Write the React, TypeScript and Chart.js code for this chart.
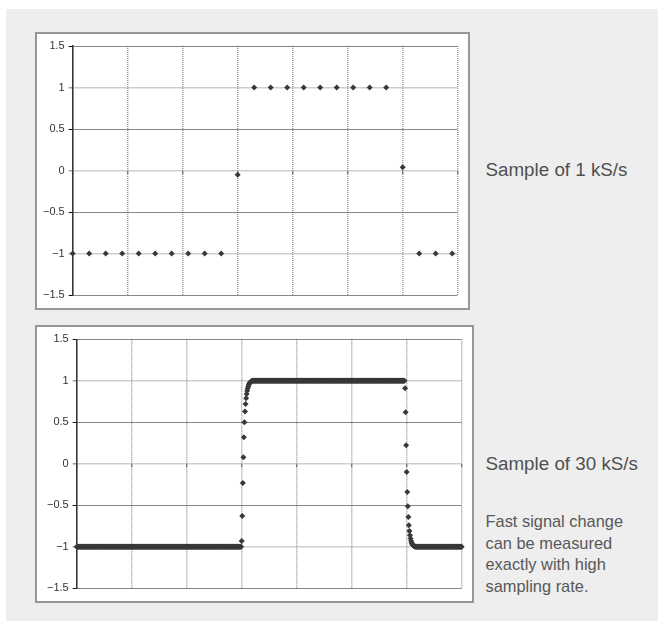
import React, { useEffect, useRef } from "react";
import { Chart, registerables } from "chart.js";

Chart.register(...registerables);

// ---- axis data ----
const yTickValues = [-1.5, -1, -0.5, 0, 0.5, 1, 1.5];
const gridTimesMs = [0, 10 / 3, 20 / 3, 10, 40 / 3, 50 / 3, 20, 70 / 3];
const timeMaxMs = 70 / 3;

// ---- 1 kS/s samples (one per ms) ----
const slowRateKs = 1;
const slowValues = [
  -1, -1, -1, -1, -1, -1, -1, -1, -1, -1, -0.05, 1, 1, 1, 1, 1, 1, 1, 1, 1, 0.04, -1, -1, -1,
];

// ---- 30 kS/s samples (30 per ms) ----
const fastRateKs = 30;
const fastLowLevel = -1;
const fastHighLevel = 1;
const fastLeadLowCount = 300;
const fastRiseEdge = [
  -0.93, -0.63, -0.23, 0.08, 0.32, 0.5, 0.63, 0.72, 0.79, 0.84, 0.88, 0.91, 0.935, 0.955, 0.97,
  0.98, 0.987, 0.992, 0.996,
];
const fastHighCount = 278;
const fastFallEdge = [
  0.91, 0.62, 0.225, -0.1, -0.34, -0.51, -0.64, -0.74, -0.81, -0.86, -0.9, -0.93, -0.95, -0.965,
  -0.977, -0.985, -0.99, -0.994, -0.997,
];
const fastTailLowCount = 85;

// ---- texts ----
const captionSlow = "Sample of 1 kS/s";
const captionFast = "Sample of 30 kS/s";
const noteLines = ["Fast signal change", "can be measured", "exactly with high", "sampling rate."];

function repeatLevel(level: number, count: number): number[] {
  const out: number[] = [];
  for (let i = 0; i < count; i++) out.push(level);
  return out;
}

const fastValues: number[] = [
  ...repeatLevel(fastLowLevel, fastLeadLowCount),
  ...fastRiseEdge,
  ...repeatLevel(fastHighLevel, fastHighCount),
  ...fastFallEdge,
  ...repeatLevel(fastLowLevel, fastTailLowCount),
];

type Pad = { axisWidth: number; right: number; top: number; bottom: number };

function fmtTick(v: number | string) {
  const n = Number(v);
  return n < 0 ? "\u2212" + String(-n) : String(n);
}

function makeConfig(values: number[], rateKs: number, pad: Pad): any {
  const data = values.map((v, i) => ({ x: i / rateKs, y: v }));
  const isInt = (c: any) => c.tick && Number.isInteger(c.tick.value);
  return {
    type: "scatter",
    data: {
      datasets: [
        {
          data,
          pointStyle: "rectRot",
          pointRadius: 3,
          pointBackgroundColor: "#383838",
          pointBorderColor: "#383838",
          pointBorderWidth: 0,
          showLine: false,
          clip: false,
        },
      ],
    },
    options: {
      animation: false,
      responsive: false,
      events: [],
      layout: { padding: { left: 0, right: pad.right, top: pad.top, bottom: pad.bottom } },
      plugins: { legend: { display: false }, tooltip: { enabled: false } },
      scales: {
        x: {
          type: "linear",
          min: 0,
          max: timeMaxMs,
          position: { y: 0 },
          afterBuildTicks: (s: any) => {
            s.ticks = gridTimesMs.map((v) => ({ value: v }));
          },
          ticks: { display: false },
          grid: {
            color: "#9e9e9e",
            lineWidth: 1.5,
            drawTicks: true,
            tickLength: 3,
            tickColor: "#555",
            tickWidth: 1,
          },
          border: { display: false, dash: [1, 1] },
        },
        y: {
          type: "linear",
          min: -1.5,
          max: 1.5,
          afterBuildTicks: (s: any) => {
            s.ticks = yTickValues.map((v) => ({ value: v }));
          },
          afterFit: (s: any) => {
            s.width = pad.axisWidth;
          },
          ticks: {
            callback: (v: any) => fmtTick(v),
            font: { family: "'Liberation Sans', Arial, sans-serif", size: 11 },
            color: "#333",
            padding: 4,
          },
          grid: {
            color: (c: any) => (isInt(c) ? "#9e9e9e" : "#111"),
            lineWidth: (c: any) => (isInt(c) ? 1.5 : 1),
            drawTicks: true,
            tickLength: 4,
          },
          border: { display: true, color: "#333", width: 1.5, dash: [1, 1] },
        },
      },
    },
  };
}

function SignalChart(props: {
  values: number[];
  rateKs: number;
  left: number;
  top: number;
  width: number;
  height: number;
  pad: Pad;
}) {
  const ref = useRef<HTMLCanvasElement | null>(null);
  useEffect(() => {
    if (!ref.current) return;
    const chart = new Chart(ref.current, makeConfig(props.values, props.rateKs, props.pad));
    return () => chart.destroy();
  }, []);
  const { left, top, width, height } = props;
  return (
    <>
      <div
        style={{
          position: "absolute",
          left,
          top,
          width,
          height,
          boxSizing: "border-box",
          border: "2px solid #979797",
          background: "#fff",
        }}
      />
      <canvas
        ref={ref}
        width={width}
        height={height}
        style={{ position: "absolute", left, top, width, height }}
      />
    </>
  );
}

const textFont = "'Liberation Sans', Arial, Helvetica, sans-serif";

export default function App() {
  return (
    <div style={{ position: "absolute", left: 0, top: 0, width: 658, height: 621, background: "#fff" }}>
      <div style={{ position: "absolute", left: 6, top: 9, width: 652, height: 612, background: "#eeeeee" }} />
      <SignalChart
        values={slowValues}
        rateKs={slowRateKs}
        left={35}
        top={32}
        width={435}
        height={278}
        pad={{ axisWidth: 37.7, right: 12.3, top: 14, bottom: 15 }}
      />
      <SignalChart
        values={fastValues}
        rateKs={fastRateKs}
        left={35}
        top={325}
        width={439}
        height={278}
        pad={{ axisWidth: 41.7, right: 12.3, top: 14.3, bottom: 14.7 }}
      />
      <div
        style={{
          position: "absolute",
          left: 485.5,
          top: 160.8,
          fontFamily: textFont,
          fontSize: 18.8,
          lineHeight: "18.8px",
          color: "#505050",
          whiteSpace: "nowrap",
        }}
      >
        {captionSlow}
      </div>
      <div
        style={{
          position: "absolute",
          left: 485.5,
          top: 454.8,
          fontFamily: textFont,
          fontSize: 18.8,
          lineHeight: "18.8px",
          color: "#505050",
          whiteSpace: "nowrap",
        }}
      >
        {captionFast}
      </div>
      <div
        style={{
          position: "absolute",
          left: 485.5,
          top: 510.8,
          fontFamily: textFont,
          fontSize: 16.4,
          lineHeight: "21.7px",
          color: "#585858",
          whiteSpace: "nowrap",
        }}
      >
        {noteLines.map((l, i) => (
          <div key={i}>{l}</div>
        ))}
      </div>
    </div>
  );
}
